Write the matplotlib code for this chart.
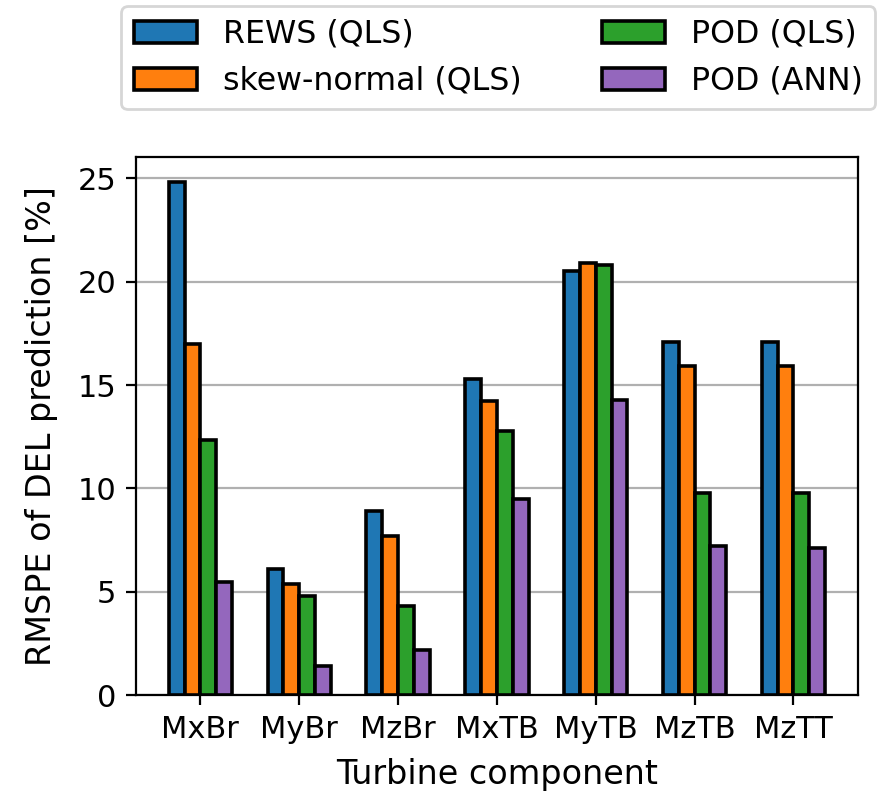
import numpy as np
import matplotlib
matplotlib.use("Agg")
import matplotlib.pyplot as plt

components = ["MxBr", "MyBr", "MzBr", "MxTB", "MyTB", "MzTB", "MzTT"]
series_names = ["REWS (QLS)", "skew-normal (QLS)", "POD (QLS)", "POD (ANN)"]
rews_qls = [24.8, 6.1, 8.9, 15.3, 20.5, 17.1, 17.1]
skew_qls = [17.0, 5.4, 7.7, 14.25, 20.9, 15.9, 15.9]
pod_qls = [12.35, 4.8, 4.3, 12.8, 20.8, 9.8, 9.8]
pod_ann = [5.5, 1.4, 2.2, 9.5, 14.3, 7.2, 7.1]
colors = ["#1f77b4", "#ff7f0e", "#2ca02c", "#9467bd"]

plt.rcParams["font.family"] = ["DejaVu Sans"]
fig = plt.figure(figsize=(4.395, 3.985), dpi=200)
ax = fig.add_axes([0.1547, 0.1276, 0.8213, 0.6757])

x = np.arange(len(components))
w = 0.16
all_series = [rews_qls, skew_qls, pod_qls, pod_ann]
handles = []
for k, (vals, name, c) in enumerate(zip(all_series, series_names, colors)):
    h = ax.bar(x + (k - 1.5) * w, vals, width=w, color=c, edgecolor="black",
               linewidth=1.3, label=name, zorder=3)
    handles.append(h)

ax.set_xticks(x)
ax.set_xticklabels(components, fontsize=11)
ax.set_yticks([0, 5, 10, 15, 20, 25])
ax.tick_params(axis="y", labelsize=11)
ax.yaxis.grid(True, color="#b0b0b0", linewidth=0.8, zorder=0)
ax.set_axisbelow(True)
ax.set_xlabel("Turbine component", fontsize=12, labelpad=5)
ax.set_ylabel("RMSPE of DEL prediction [%]", fontsize=12, labelpad=7)

fig.legend(handles=handles, labels=series_names, ncol=2, fontsize=11.4,
           loc="upper center", bbox_to_anchor=(0.567, 1.012),
           columnspacing=2.55)

fig.savefig("out.png", dpi=200)
